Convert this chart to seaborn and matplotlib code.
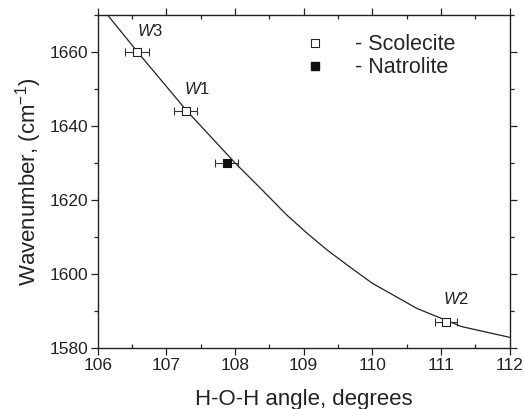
import pandas as pd
import numpy as np
import matplotlib.pyplot as plt
import seaborn as sns
from matplotlib.ticker import MultipleLocator
from matplotlib.lines import Line2D

# data
curve_x = [106.14, 106.6, 107.3, 108.0, 108.4, 108.75, 109.05, 109.34, 109.68, 110.0, 110.65, 111.3, 112.0]
curve_y = [1670, 1659.5, 1644, 1630, 1622.6, 1616, 1611, 1606.5, 1601.8, 1597.5, 1590.7, 1585.8, 1582.9]

names = ["W3", "W1", "W2", "Nat"]
mineral = ["Scolecite", "Scolecite", "Scolecite", "Natrolite"]
angle = [106.57, 107.28, 111.07, 107.88]
wavenumber = [1660, 1644, 1587, 1630]
angle_err = [0.17, 0.17, 0.16, 0.17]

pts = pd.DataFrame({"name": names, "mineral": mineral, "angle": angle,
                    "wn": wavenumber, "err": angle_err})
curve = pd.DataFrame({"x": curve_x, "y": curve_y})

sns.set_style("ticks")
plt.rcParams['font.family'] = ['Liberation Sans', 'DejaVu Sans']
plt.rcParams['mathtext.fontset'] = 'custom'
plt.rcParams['mathtext.it'] = 'Liberation Sans:italic'
plt.rcParams['mathtext.rm'] = 'Liberation Sans'

fig = plt.figure(figsize=(5.24, 4.09), dpi=100)
ax = fig.add_axes([0.1865, 0.149, 0.786, 0.815])

sns.lineplot(data=curve, x="x", y="y", ax=ax, color="#222222", lw=0.9, sort=False)

ax.errorbar(pts["angle"], pts["wn"], xerr=pts["err"], fmt="none",
            ecolor="#333333", elinewidth=0.8, capsize=3, capthick=0.8, zorder=3)
sc = pts[pts.mineral == "Scolecite"]
na = pts[pts.mineral == "Natrolite"]
ax.scatter(sc["angle"], sc["wn"], marker="s", s=26, facecolor="white",
           edgecolor="#222222", linewidth=0.8, zorder=4)
ax.scatter(na["angle"], na["wn"], marker="s", s=30, facecolor="#111111",
           edgecolor="#111111", linewidth=0.8, zorder=4)

# labels near points
for nm, x, y in [("W3", 106.76, 1665.5), ("W1", 107.44, 1650.0), ("W2", 111.22, 1593.3)]:
    ax.text(x, y, r"$\it{W}$" + nm[1], fontsize=12, ha="center", va="center", color="#222222")

ax.set_xlim(106, 112)
ax.set_ylim(1580, 1670)
ax.xaxis.set_major_locator(MultipleLocator(1))
ax.xaxis.set_minor_locator(MultipleLocator(0.5))
ax.yaxis.set_major_locator(MultipleLocator(20))
ax.yaxis.set_minor_locator(MultipleLocator(10))
ax.tick_params(which="both", top=True, right=True, labelsize=12.5, colors="#222222",
               width=0.9)
ax.tick_params(which="major", length=5, direction="out", pad=2)
ax.tick_params(which="minor", length=3)
ax.tick_params(axis="x", which="minor", direction="in")
ax.tick_params(axis="y", which="minor", direction="out")
for sp in ax.spines.values():
    sp.set_linewidth(1.0)
    sp.set_color("#222222")

ax.set_xlabel("H-O-H angle, degrees", fontsize=16, color="#222222", labelpad=12)
ax.set_ylabel("Wavenumber, (cm$^{-1}$)", fontsize=16, color="#222222", labelpad=4)

handles = [Line2D([], [], ls="none", marker="s", ms=5.5, mfc="white", mec="#222222", mew=0.8),
           Line2D([], [], ls="none", marker="s", ms=5.5, mfc="#111111", mec="#111111")]
ax.legend(handles, ["- Scolecite", "- Natrolite"], frameon=False, fontsize=15.5,
          loc="upper left", bbox_to_anchor=(0.455, 1.0), handletextpad=1.35,
          labelspacing=0.1, handlelength=1.0)

fig.savefig("out.png", dpi=100)
